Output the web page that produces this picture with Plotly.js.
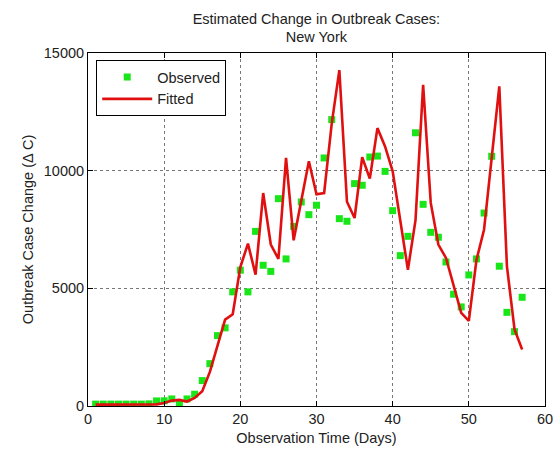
<!DOCTYPE html>
<html>
<head>
<meta charset="utf-8">
<script src="https://cdn.plot.ly/plotly-3.0.1.min.js"></script>
<style>html,body{margin:0;padding:0;background:#fff;}#chart{width:555px;height:452px;}</style>
</head>
<body>
<div id="chart"></div>
<script>
// Observation day numbers
const days = [1,2,3,4,5,6,7,8,9,10,11,12,13,14,15,16,17,18,19,20,21,22,23,24,25,26,27,28,29,30,31,32,33,34,35,36,37,38,39,40,41,42,43,44,45,46,47,48,49,50,51,52,53,54,55,56,57];
// Observed outbreak case change
const observed = [80,80,80,80,80,80,80,90,215,220,300,100,300,500,1080,1800,2990,3320,4850,5770,4850,7420,5980,5720,8810,6250,7630,8670,8130,8530,10540,12170,7960,7850,9450,9380,10580,10620,9970,8300,6390,7210,11610,8570,7380,7170,6120,4750,4210,5570,6250,8200,10610,5940,3980,3160,4620];
// Fitted outbreak case change
const fitted = [60,60,60,60,60,60,60,60,70,130,230,260,190,340,630,1450,2600,3670,3900,5900,6900,5580,9050,6860,6250,10540,7040,8800,10400,9000,9050,12000,14270,8680,7990,10570,9660,11810,11030,9970,7800,5790,7900,13650,8630,6860,6290,5090,3960,3620,6200,7500,10470,13580,5940,3250,2400];
// Axis tick values
const xTicks = [0,10,20,30,40,50,60];
const yTicks = [0,5000,10000,15000];

const font = {family: 'Liberation Sans, Arial, sans-serif', size: 14.5, color: '#222'};

const traces = [
  {x: days, y: observed, name: 'Observed', type: 'scatter', mode: 'markers',
   marker: {symbol: 'square', size: 7, color: '#19e619'}},
  {x: days, y: fitted, name: 'Fitted', type: 'scatter', mode: 'lines',
   line: {color: '#e01010', width: 2.6}}
];

const axisCommon = {
  showline: true, linecolor: '#000', linewidth: 1, mirror: 'ticks',
  ticks: 'inside', ticklen: 5, tickcolor: '#000',
  showgrid: true, gridcolor: '#777', griddash: 'dot', gridwidth: 1,
  zeroline: false, tickfont: font
};

const layout = {
  width: 555, height: 452,
  margin: {l: 88, r: 10, t: 53, b: 46},
  paper_bgcolor: '#fff', plot_bgcolor: '#fff',
  font: font,
  title: {text: 'Estimated Change in Outbreak Cases:<br>New York', font: font,
          x: 0.57, xanchor: 'center', y: 0.948, yanchor: 'top'},
  xaxis: Object.assign({}, axisCommon, {
    range: [0, 60], tickvals: xTicks, ticktext: xTicks.map(String),
    title: {text: 'Observation Time (Days)', font: font, standoff: 6}
  }),
  yaxis: Object.assign({}, axisCommon, {
    range: [0, 15000], tickvals: yTicks, ticktext: yTicks.map(String),
    title: {text: 'Outbreak Case Change (Δ C)', font: font, standoff: 6}
  }),
  showlegend: true,
  legend: {x: 0.018, y: 0.98, xanchor: 'left', yanchor: 'top',
           bgcolor: '#fff', bordercolor: '#000', borderwidth: 1,
           font: font, tracegroupgap: 0, itemwidth: 50}
};

Plotly.newPlot('chart', traces, layout, {displayModeBar: false, staticPlot: true});
</script>
</body>
</html>
